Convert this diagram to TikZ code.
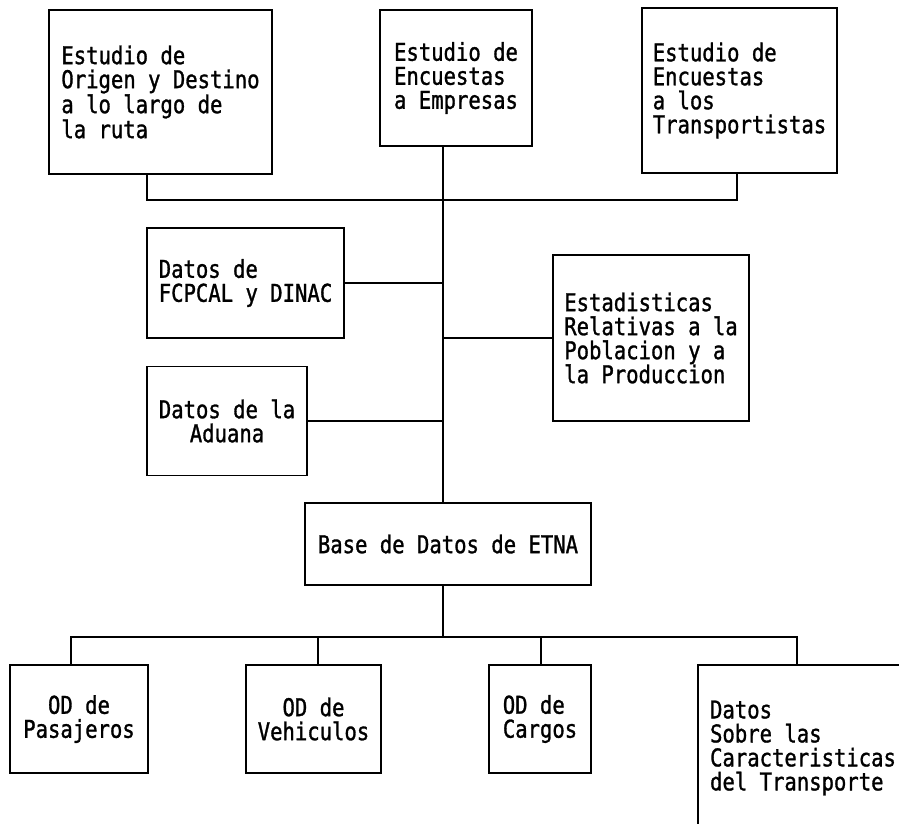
\documentclass[tikz,border=0pt]{standalone}
\usepackage{fontspec}
\newfontfamily\boxfont[FakeStretch=0.84,FakeBold=1.2]{DejaVu Sans Mono}
\begin{document}
\begin{tikzpicture}[x=1pt,y=-1pt,
  box/.style={draw, line width=1.4pt, rectangle, inner sep=0pt,
    font=\boxfont\fontsize{24.5}{24}\selectfont},
  mainbox/.style={box, line width=2.6pt},
  wire/.style={draw, line width=1.4pt}]
\useasboundingbox (0,0) rectangle (899,824);
\clip (0,0) rectangle (899,824);

% sources
\node[box, minimum width=223, minimum height=164, align=left] (orig) at (160.5,92)
  {Estudio de\\Origen y Destino\\a lo largo de\\la ruta};
\node[box, minimum width=152, minimum height=136, align=left] (empr) at (456,78)
  {Estudio de\\Encuestas\\a Empresas};
\node[box, minimum width=195, minimum height=165, align=left] (trans) at (739.5,90.5)
  {Estudio de\\Encuestas\\a los\\Transportistas};
\node[box, minimum width=197, minimum height=110, align=left] (fcp) at (245.5,283)
  {Datos de\\FCPCAL y DINAC};
\node[box, minimum width=160, minimum height=109, align=center] (adu) at (227,421)
  {Datos de la\\Aduana};
\node[box, minimum width=196, minimum height=166, align=left] (est) at (651,338)
  {Estadisticas\\Relativas a la\\Poblacion y a\\la Produccion};

% central database
\node[mainbox, minimum width=286, minimum height=82] (base) at (448,544)
  {Base de Datos de ETNA};

% outputs
\node[box, minimum width=138, minimum height=108, align=center] (pas) at (79,719)
  {OD de\\Pasajeros};
\node[box, minimum width=135, minimum height=108, align=center] (veh) at (313.5,719)
  {OD de\\Vehiculos};
\node[box, minimum width=102, minimum height=108, align=left] (car) at (540,719)
  {OD de\\Cargos};
\node[box, minimum width=210, minimum height=166, align=left] (dat) at (803,748)
  {Datos\\Sobre las\\Caracteristicas\\del Transporte};

% bus lines
\coordinate (topbus) at (443,200);
\coordinate (botbus) at (443,637);

\draw[wire] ([xshift=-13.5]orig.south) |- (topbus) -| ([xshift=-2.5]trans.south);
\draw[wire] (empr.south -| topbus) -- (base.north -| topbus);
\draw[wire] (fcp.east) -- (fcp.east -| topbus);
\draw[wire] (adu.east) -- (adu.east -| topbus);
\draw[wire] (est.west) -- (est.west -| topbus);
\draw[wire] (base.south -| topbus) -- (botbus);
\draw[wire] ([xshift=-8]pas.north) |- (botbus) -| (dat.north -| 797,0);
\draw[wire] ([xshift=4.5]veh.north) -- ([xshift=4.5]veh.north |- botbus);
\draw[wire] ([xshift=1]car.north) -- ([xshift=1]car.north |- botbus);
\end{tikzpicture}
\end{document}
